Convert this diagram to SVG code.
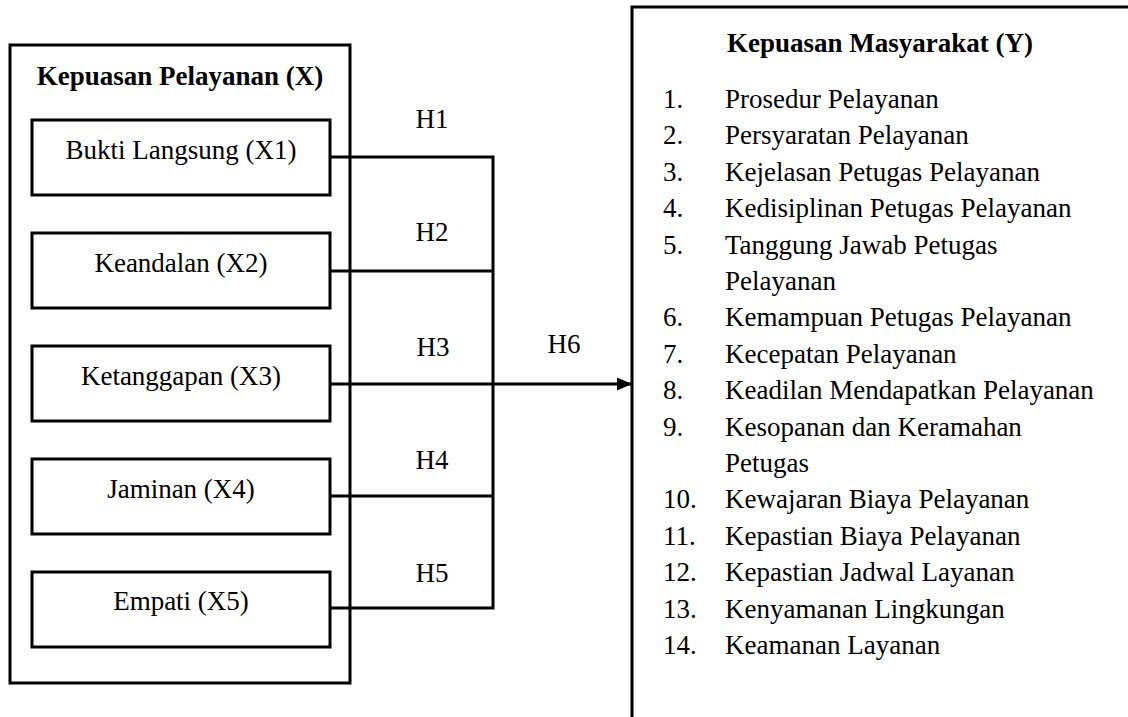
<svg xmlns="http://www.w3.org/2000/svg" width="1128" height="717" viewBox="0 0 1128 717" font-family="'Liberation Serif', 'Times New Roman', 'DejaVu Serif', serif">
<style>
.box{fill:none;stroke:#000;stroke-width:3}
.t{font-family:'Liberation Serif','Times New Roman','DejaVu Serif',serif;font-size:27px;fill:#000}
.c{text-anchor:middle}
.b{font-weight:bold}
.ln{fill:none;stroke:#000;stroke-width:3}
</style>
<defs>
<marker id="arr" markerWidth="15" markerHeight="13" refX="15" refY="6.5" orient="auto" markerUnits="userSpaceOnUse" viewBox="0 0 15 13">
<path d="M0,0 L15,6.5 L0,13 z" fill="#000"/>
</marker>
</defs>
<rect width="1128" height="717" fill="#fff"/>
<g id="groupX">
<rect class="box" x="10" y="45" width="340" height="638"/>
<text class="t b c" x="180" y="85">Kepuasan Pelayanan (X)</text>
</g>
<g id="x1"><rect class="box" x="32" y="120" width="298" height="75"/><text class="t c" x="181" y="159">Bukti Langsung (X1)</text></g>
<g id="x2"><rect class="box" x="32" y="233" width="298" height="75"/><text class="t c" x="181" y="272">Keandalan (X2)</text></g>
<g id="x3"><rect class="box" x="32" y="346" width="298" height="75"/><text class="t c" x="181" y="385">Ketanggapan (X3)</text></g>
<g id="x4"><rect class="box" x="32" y="459" width="298" height="75"/><text class="t c" x="181" y="498">Jaminan (X4)</text></g>
<g id="x5"><rect class="box" x="32" y="572" width="298" height="75"/><text class="t c" x="181" y="610">Empati (X5)</text></g>
<g id="connectors">
<path class="ln" d="M331,157 H493 M331,271 H493 M331,384 H493 M331,496 H493 M331,608 H493 M493,155.5 V609.5"/>
<path class="ln" d="M493,384 H632" marker-end="url(#arr)"/>
<text class="t c" x="432" y="128">H1</text>
<text class="t c" x="432" y="241">H2</text>
<text class="t c" x="433" y="356">H3</text>
<text class="t c" x="432" y="469">H4</text>
<text class="t c" x="432" y="582">H5</text>
<text class="t c" x="564" y="353">H6</text>
</g>
<g id="groupY">
<path class="ln" d="M632,720 V7 H1130"/>
<text class="t b c" x="880" y="52">Kepuasan Masyarakat (Y)</text>
<g class="t">
<text x="663" y="108">1.</text><text x="725" y="108">Prosedur Pelayanan</text>
<text x="663" y="144.4">2.</text><text x="725" y="144.4">Persyaratan Pelayanan</text>
<text x="663" y="180.8">3.</text><text x="725" y="180.8">Kejelasan Petugas Pelayanan</text>
<text x="663" y="217.2">4.</text><text x="725" y="217.2">Kedisiplinan Petugas Pelayanan</text>
<text x="663" y="253.6">5.</text><text x="725" y="253.6">Tanggung Jawab Petugas</text>
<text x="725" y="290">Pelayanan</text>
<text x="663" y="326.4">6.</text><text x="725" y="326.4">Kemampuan Petugas Pelayanan</text>
<text x="663" y="362.8">7.</text><text x="725" y="362.8">Kecepatan Pelayanan</text>
<text x="663" y="399.2">8.</text><text x="725" y="399.2">Keadilan Mendapatkan Pelayanan</text>
<text x="663" y="435.6">9.</text><text x="725" y="435.6">Kesopanan dan Keramahan</text>
<text x="725" y="472">Petugas</text>
<text x="663" y="508.4">10.</text><text x="725" y="508.4">Kewajaran Biaya Pelayanan</text>
<text x="663" y="544.8">11.</text><text x="725" y="544.8">Kepastian Biaya Pelayanan</text>
<text x="663" y="581.2">12.</text><text x="725" y="581.2">Kepastian Jadwal Layanan</text>
<text x="663" y="617.6">13.</text><text x="725" y="617.6">Kenyamanan Lingkungan</text>
<text x="663" y="654">14.</text><text x="725" y="654">Keamanan Layanan</text>
</g>
</g>
</svg>
